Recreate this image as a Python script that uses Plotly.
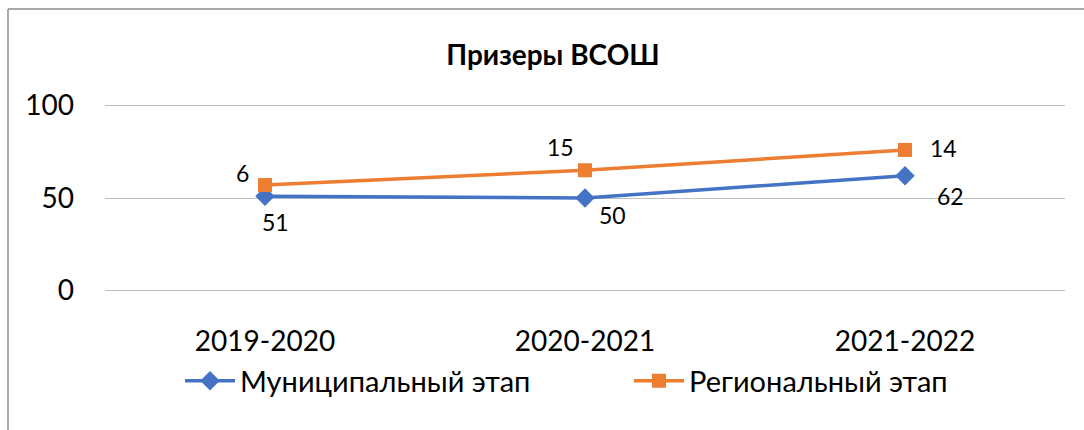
import plotly.graph_objects as go

categories = ["2019-2020", "2020-2021", "2021-2022"]
municipal = [51, 50, 62]
regional = [6, 15, 14]
series_names = ["Муниципальный этап", "Региональный этап"]
title_text = "Призеры ВСОШ"

W, H = 1084, 430
PAD = 3
YMIN, YMAX = -PAD, 100 + PAD
PXU = 1.84  # pixels per unit
L, R = 105, 19
T = 106 - PAD * PXU
B = H - (290 + PAD * PXU)

stacked_regional = [m + r for m, r in zip(municipal, regional)]

FONT = "Lato, 'Open Sans', sans-serif"
GRID = "#BFBFBF"

fig = go.Figure()
fig.add_trace(go.Scatter(
    x=categories, y=municipal, name=series_names[0], mode="lines+markers",
    line=dict(color="#4472C4", width=3.5),
    marker=dict(symbol="diamond", size=15, color="#4472C4"),
))
fig.add_trace(go.Scatter(
    x=categories, y=stacked_regional, name=series_names[1], mode="lines+markers",
    line=dict(color="#ED7D31", width=3.5),
    marker=dict(symbol="square", size=14, color="#ED7D31"),
))

# data labels (offsets in px)
muni_off = [(10, -26), (27, -17), (45, -20)]
reg_off = [(-23, 12), (-25, 23), (38, 2)]
for i, c in enumerate(categories):
    fig.add_annotation(x=c, y=municipal[i], text=str(municipal[i]), showarrow=False,
                       xshift=muni_off[i][0], yshift=muni_off[i][1],
                       font=dict(size=23, color="#000000", family=FONT))
    fig.add_annotation(x=c, y=stacked_regional[i], text=str(regional[i]), showarrow=False,
                       xshift=reg_off[i][0], yshift=reg_off[i][1],
                       font=dict(size=23, color="#000000", family=FONT))

pw = W - L - R
ph = H - T - B
def px_x(x):
    return (x - L) / pw
def px_y(y):
    return (H - B - y) / ph

fig.add_shape(type="line", xref="paper", yref="paper",
              x0=px_x(8), x1=px_x(1084), y0=px_y(10), y1=px_y(10),
              line=dict(color="#8C8C8C", width=1.5))
fig.add_shape(type="line", xref="paper", yref="paper",
              x0=px_x(8), x1=px_x(8), y0=px_y(10), y1=px_y(430),
              line=dict(color="#8C8C8C", width=1.5))

fig.update_layout(
    width=W, height=H,
    margin=dict(l=L, r=R, t=T, b=B, autoexpand=False),
    paper_bgcolor="white", plot_bgcolor="white",
    font=dict(family=FONT, color="#000000"),
    title=dict(text="<b>" + title_text + "</b>", x=553 / W, xanchor="center",
               y=1 - 55 / H, yanchor="middle",
               font=dict(size=28, family=FONT, color="#000000")),
    showlegend=True,
    legend=dict(orientation="h", x=px_x(180), xanchor="left", y=px_y(380), yanchor="middle",
                font=dict(size=29, family=FONT, color="#000000"),
                itemwidth=50, tracegroupgap=0, entrywidth=384, entrywidthmode="pixels"),
    xaxis=dict(type="category", range=[-0.5, 2.5], showgrid=False, zeroline=False,
               showline=False, ticks="", tickfont=dict(size=28, family=FONT),
               ticklabelstandoff=26),
    yaxis=dict(range=[YMIN, YMAX], tickvals=[0, 50, 100], showgrid=True,
               gridcolor=GRID, gridwidth=1.2, zeroline=True, zerolinecolor=GRID,
               zerolinewidth=1.2, showline=False,
               ticks="", tickfont=dict(size=28, family=FONT), ticklabelstandoff=30),
)

fig.write_html("out.html", config={"displayModeBar": False},
               post_script="document.body.style.margin='0';")
